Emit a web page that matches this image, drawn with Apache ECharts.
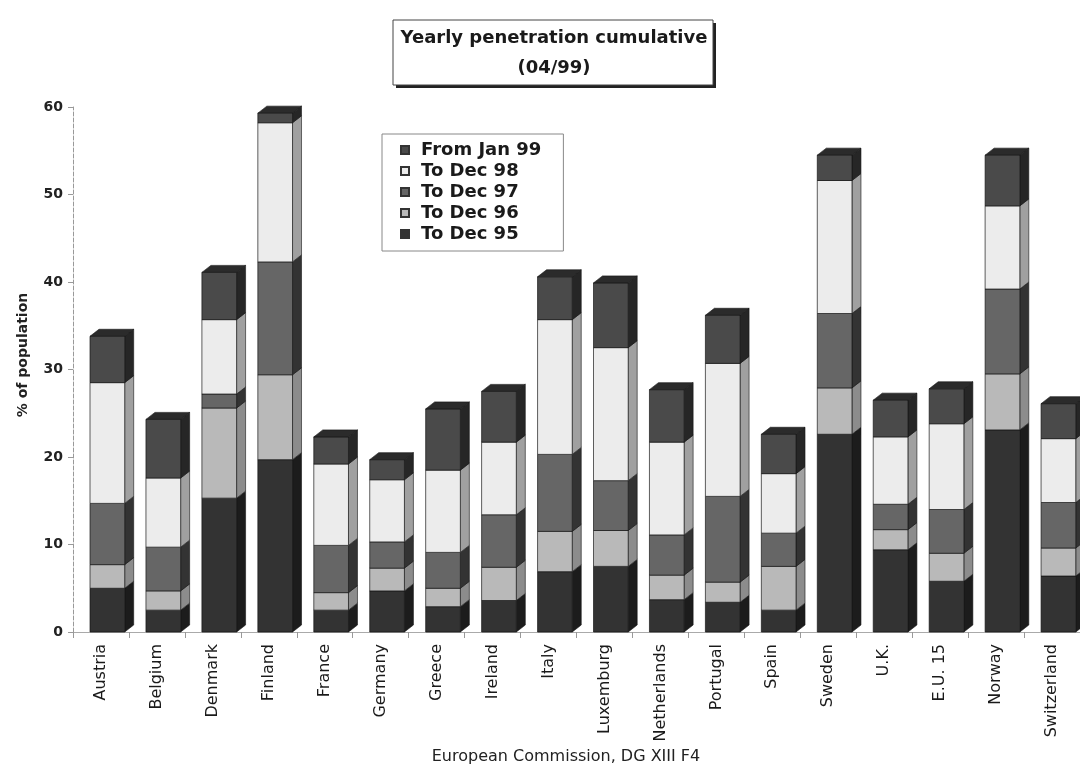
<!DOCTYPE html>
<html>
<head>
<meta charset="utf-8">
<script src="https://cdn.jsdelivr.net/npm/echarts@6/dist/echarts.min.js"></script>
<style>
html,body{margin:0;padding:0;background:#fff;}
#chart{width:1080px;height:769px;}
</style>
</head>
<body>
<div id="chart"></div>
<script>
// ---- data ----
const categories = ['Austria','Belgium','Denmark','Finland','France','Germany','Greece','Ireland','Italy','Luxemburg','Netherlands','Portugal','Spain','Sweden','U.K.','E.U. 15','Norway','Switzerland'];
const toDec95   = [5.0, 2.5, 15.3, 19.7, 2.5, 4.7, 2.9, 3.6, 6.9, 7.5, 3.7, 3.4, 2.5, 22.6, 9.4, 5.8, 23.1, 6.4];
const toDec96   = [2.7, 2.2, 10.3, 9.7, 2.0, 2.6, 2.1, 3.8, 4.6, 4.1, 2.8, 2.3, 5.0, 5.3, 2.3, 3.2, 6.4, 3.2];
const toDec97   = [7.0, 5.0, 1.6, 12.9, 5.4, 3.0, 4.1, 6.0, 8.8, 5.7, 4.6, 9.8, 3.8, 8.5, 2.9, 5.0, 9.7, 5.2];
const toDec98   = [13.8, 7.9, 8.5, 15.9, 9.3, 7.1, 9.4, 8.3, 15.4, 15.2, 10.6, 15.2, 6.8, 15.2, 7.7, 9.8, 9.5, 7.3];
const fromJan99 = [5.3, 6.7, 5.4, 1.1, 3.1, 2.3, 7.0, 5.8, 4.9, 7.4, 6.0, 5.5, 4.5, 2.9, 4.2, 4.0, 5.8, 4.0];
const seriesNames = ['To Dec 95','To Dec 96','To Dec 97','To Dec 98','From Jan 99'];
const yTicks = [0, 10, 20, 30, 40, 50, 60];

// ---- styles ----
const frontColors = ['#333333', '#b9b9b9', '#666666', '#ececec', '#4a4a4a'];
const sideColors  = ['#1c1c1c', '#8c8c8c', '#333333', '#a0a0a0', '#262626'];
const capColor = '#2b2b2b';

const segs = [toDec95, toDec96, toDec97, toDec98, fromJan99];
// stacking: build [cat, base, top, isTop]
const stacked = [];
const running = categories.map(() => 0);
segs.forEach((arr, k) => {
  stacked.push(arr.map((v, i) => {
    const lo = running[i];
    running[i] = +(lo + v).toFixed(3);
    return [i, lo, running[i], k === segs.length - 1 ? 1 : 0];
  }));
});

const DX = 9, DY = 7;
function makeRender(k) {
  return function (params, api) {
    const cat = api.value(0), lo = api.value(1), hi = api.value(2), isTop = api.value(3);
    const pLo = api.coord([cat, lo]);
    const pHi = api.coord([cat, hi]);
    const bw = api.size([1, 0])[0];
    const xl = pLo[0] - bw * 0.196;
    const w = bw * 0.62;
    const xr = xl + w;
    const yT = pHi[1], yB = pLo[1];
    const stroke = 'rgba(20,20,20,0.85)';
    const children = [
      { type: 'polygon', shape: { points: [[xr, yT], [xr + DX, yT - DY], [xr + DX, yB - DY], [xr, yB]] },
        style: { fill: sideColors[k], stroke: stroke, lineWidth: 0.7 } },
      { type: 'rect', shape: { x: xl, y: yT, width: w, height: yB - yT },
        style: { fill: frontColors[k], stroke: stroke, lineWidth: 0.8 } }
    ];
    if (isTop) {
      children.push({ type: 'polygon', shape: { points: [[xl, yT], [xl + DX, yT - DY], [xr + DX, yT - DY], [xr, yT]] },
        style: { fill: capColor, stroke: stroke, lineWidth: 0.7 } });
    }
    return { type: 'group', children: children };
  };
}

const chart = echarts.init(document.getElementById('chart'), null, { renderer: 'canvas' });
const FONT = 'DejaVu Sans';

const option = {
  backgroundColor: '#ffffff',
  animation: false,
  title: {
    text: 'Yearly penetration cumulative\n(04/99)',
    left: 549,
    top: 18,
    textAlign: 'center',
    z: 10,
    textStyle: { fontFamily: FONT, fontSize: 18, fontWeight: 'bold', color: '#1a1a1a', lineHeight: 30, align: 'center' }
  },
  graphic: [
    { type: 'rect', z: 1, shape: { x: 396, y: 23, width: 320, height: 65 }, style: { fill: '#222' } },
    { type: 'rect', z: 2, shape: { x: 393, y: 20, width: 320, height: 65 }, style: { fill: '#fff', stroke: '#444', lineWidth: 1 } },
    { type: 'text', z: 5, rotation: Math.PI / 2, x: 23, y: 355,
      style: { text: '% of population', fontFamily: FONT, fontSize: 14, fontWeight: 'bold', fill: '#222', align: 'center', verticalAlign: 'middle' } },
    { type: 'text', z: 5, x: 566, y: 757,
      style: { text: 'European Commission, DG XIII F4', fontFamily: FONT, fontSize: 16, fill: '#222', align: 'center', verticalAlign: 'middle' } }
  ],
  legend: {
    orient: 'vertical',
    left: 382,
    top: 134,
    padding: [7, 22, 8, 18],
    backgroundColor: '#fff',
    borderColor: '#888',
    borderWidth: 1,
    itemWidth: 8,
    itemHeight: 8,
    itemGap: 3,
    icon: 'rect',
    data: ['From Jan 99', 'To Dec 98', 'To Dec 97', 'To Dec 96', 'To Dec 95'],
    textStyle: { fontFamily: FONT, fontSize: 18, fontWeight: 'bold', color: '#1a1a1a', lineHeight: 18, padding: [0, 0, 0, 7] },
    z: 10
  },
  grid: { left: 73, top: 107, width: 1012, height: 525, containLabel: false },
  xAxis: {
    type: 'category',
    data: categories,
    axisLine: { show: true, lineStyle: { color: '#aaa', width: 1 } },
    axisTick: { show: true, alignWithLabel: false, length: 6, lineStyle: { color: '#999' } },
    axisLabel: { rotate: 90, interval: 0, margin: 12, fontFamily: FONT, fontSize: 16, color: '#1a1a1a' }
  },
  yAxis: {
    type: 'value',
    min: 0, max: 60, interval: 10,
    splitLine: { show: false },
    axisLine: { show: true, lineStyle: { color: '#999', type: 'dashed', width: 1 } },
    axisTick: { show: true, length: 5, lineStyle: { color: '#999' } },
    axisLabel: { fontFamily: FONT, fontSize: 14, fontWeight: 'bold', color: '#222', margin: 10,
      formatter: v => (yTicks.indexOf(v) >= 0 ? String(v) : '') }
  },
  series: seriesNames.map((name, k) => ({
    type: 'custom',
    name: name,
    clip: false,
    renderItem: makeRender(k),
    encode: { x: 0, y: 2 },
    itemStyle: { color: frontColors[k], borderColor: '#333', borderWidth: 1 },
    data: stacked[k]
  }))
};
chart.setOption(option);
</script>
</body>
</html>
